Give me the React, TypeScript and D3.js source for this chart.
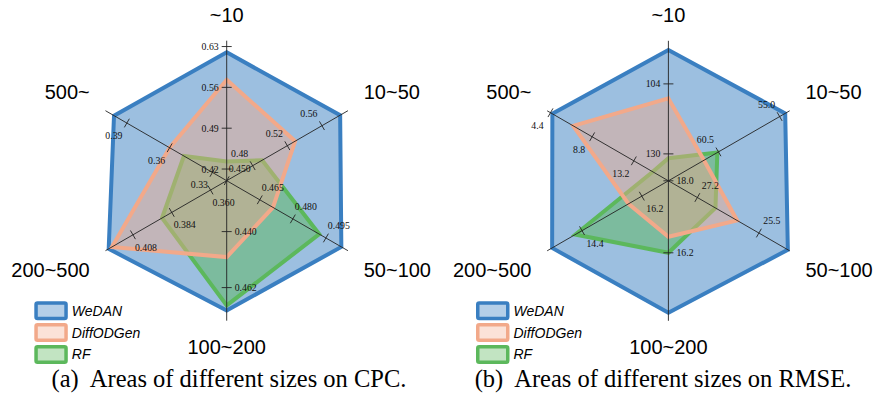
import React from "react";
import * as d3 from "d3";

const axisNames = ["~10", "10~50", "50~100", "100~200", "200~500", "500~"];
const seriesNames = ["WeDAN", "DiffODGen", "RF"];

// CPC panel
const cpcDomains: [number, number][] = [
  [0.4, 0.64],
  [0.45, 0.59],
  [0.45, 0.505],
  [0.42, 0.475],
  [0.35, 0.425],
  [0.32, 0.405],
];
const cpcTickLabels = [
  ["0.42", "0.49", "0.56", "0.63"],
  ["0.48", "0.52", "0.56"],
  ["0.450", "0.465", "0.480", "0.495"],
  ["0.440", "0.462"],
  ["0.360", "0.384", "0.408"],
  ["0.33", "0.36", "0.39"],
];
const cpcWeDAN = [0.62, 0.581, 0.502, 0.471, 0.423, 0.399];
const cpcDiffODGen = [0.573, 0.529, 0.471, 0.45, 0.421, 0.36];
const cpcRF = [0.433, 0.491, 0.492, 0.469, 0.39, 0.35];

// RMSE panel (reversed axes: lower is better)
const rmseDomains: [number, number][] = [
  [140, 88],
  [65, 54.1],
  [28, 24.65],
  [18, 14.5],
  [17, 13.35],
  [16.85, 4.05],
];
const rmseTickLabels = [
  ["130", "104"],
  ["60.5", "55.0"],
  ["27.2", "25.5"],
  ["18.0", "16.2"],
  ["16.2", "14.4"],
  ["13.2", "8.8", "4.4"],
];
const rmseWeDAN = [91.4, 54.5, 24.7, 14.7, 13.5, 4.6];
const rmseDiffODGen = [109.4, 61.8, 26.1, 16.6, 15.8, 6.8];
const rmseRF = [131.6, 60.6, 26.7, 16.2, 14.2, 15.2];

const R = 140;
const colors: Record<string, string> = {
  WeDAN: "#3a7fc1",
  DiffODGen: "#f2a98a",
  RF: "#5cb85c",
};
const fillOpacity: Record<string, number> = {
  WeDAN: 0.5,
  DiffODGen: 0.45,
  RF: 0.5,
};
const drawOrder = ["WeDAN", "RF", "DiffODGen"];

const serif = "'Liberation Serif', 'Times New Roman', serif";
const sans = "'Liberation Sans', Arial, sans-serif";

function Radar({ cx, cy, domains, tickLabels, values, tag, caption, captionX }: any) {
  const scales = domains.map((d: [number, number]) =>
    d3.scaleLinear().domain(d).range([0, R])
  );
  const ang = (i: number) => (i * Math.PI) / 3;
  const radial = d3
    .lineRadial<number>()
    .angle((_, i) => ang(i))
    .radius((v, i) => scales[i](v))
    .curve(d3.curveLinearClosed);

  return (
    <g>
      <g transform={`translate(${cx},${cy})`}>
        {drawOrder.map((name) => (
          <path
            key={name}
            d={radial(values[name]) as string}
            fill={colors[name]}
            fillOpacity={fillOpacity[name]}
            stroke={colors[name]}
            strokeWidth={4}
            strokeLinejoin="miter"
          />
        ))}
        {axisNames.map((_, i) => {
          const a = ang(i);
          const dx = Math.sin(a);
          const dy = -Math.cos(a);
          const px = dy; // perpendicular, counter-clockwise side
          const py = -dx;
          const vertical = i % 3 === 0;
          return (
            <g key={i}>
              <line x1={0} y1={0} x2={dx * R} y2={dy * R} stroke="#222" strokeWidth={0.9} />
              {tickLabels[i].map((t: string) => {
                const r = scales[i](+t);
                const tx = dx * r;
                const ty = dy * r;
                let lx, ly, anchor;
                if (vertical) {
                  lx = tx + px * 8;
                  ly = ty;
                  anchor = i === 0 ? "end" : "start";
                } else {
                  lx = tx + Math.sign(px) * 13;
                  ly = ty + Math.sign(py) * 12.5;
                  anchor = "middle";
                }
                return (
                  <g key={t}>
                    <line
                      x1={tx - px * 5}
                      y1={ty - py * 5}
                      x2={tx + px * 5}
                      y2={ty + py * 5}
                      stroke="#222"
                      strokeWidth={0.9}
                    />
                    <text
                      x={lx}
                      y={ly}
                      textAnchor={anchor}
                      dominantBaseline="central"
                      fontFamily={serif}
                      fontSize={9.8}
                      fill="#111"
                    >
                      {t}
                    </text>
                  </g>
                );
              })}
            </g>
          );
        })}
        {axisNames.map((n, i) => {
          const a = ang(i);
          const s = Math.sin(a);
          const vertical = i % 3 === 0;
          const x = vertical ? 0 : Math.sign(s) * 137;
          const y = -Math.cos(a) * (vertical ? 166 : 178);
          const anchor = vertical ? "middle" : s > 0 ? "start" : "end";
          return (
            <text
              key={n}
              x={x}
              y={y}
              textAnchor={anchor}
              dominantBaseline="central"
              fontFamily={sans}
              fontSize={20}
              fill="#000"
            >
              {n}
            </text>
          );
        })}
      </g>
      <g transform={`translate(${cx - 192.4},301.3)`}>
        {seriesNames.map((name, k) => (
          <g key={name} transform={`translate(0,${k * 21.8})`}>
            <rect
              x={1.75}
              y={1.75}
              width={30}
              height={15.5}
              rx={1.5}
              fill={colors[name]}
              fillOpacity={fillOpacity[name] * 0.75}
              stroke={colors[name]}
              strokeWidth={3.5}
            />
            <text
              x={37.5}
              y={9.6}
              dominantBaseline="central"
              fontFamily={sans}
              fontStyle="italic"
              fontSize={14}
              fill="#000"
            >
              {name}
            </text>
          </g>
        ))}
      </g>
      <text
        x={captionX}
        y={378}
        textAnchor="middle"
        dominantBaseline="central"
        fontFamily={serif}
        fontSize={24.5}
        fill="#000"
      >
        {tag}
        <tspan dx={11}>{caption}</tspan>
      </text>
    </g>
  );
}

export default function App() {
  return (
    <svg
      width={875}
      height={402}
      style={{ position: "absolute", left: 0, top: 0, background: "#fff" }}
    >
      <Radar
        cx={226.7}
        cy={180.7}
        domains={cpcDomains}
        tickLabels={cpcTickLabels}
        values={{ WeDAN: cpcWeDAN, DiffODGen: cpcDiffODGen, RF: cpcRF }}
        tag="(a)"
        caption="Areas of different sizes on CPC."
        captionX={229}
      />
      <Radar
        cx={668.4}
        cy={180.8}
        domains={rmseDomains}
        tickLabels={rmseTickLabels}
        values={{ WeDAN: rmseWeDAN, DiffODGen: rmseDiffODGen, RF: rmseRF }}
        tag="(b)"
        caption="Areas of different sizes on RMSE."
        captionX={663}
      />
    </svg>
  );
}
